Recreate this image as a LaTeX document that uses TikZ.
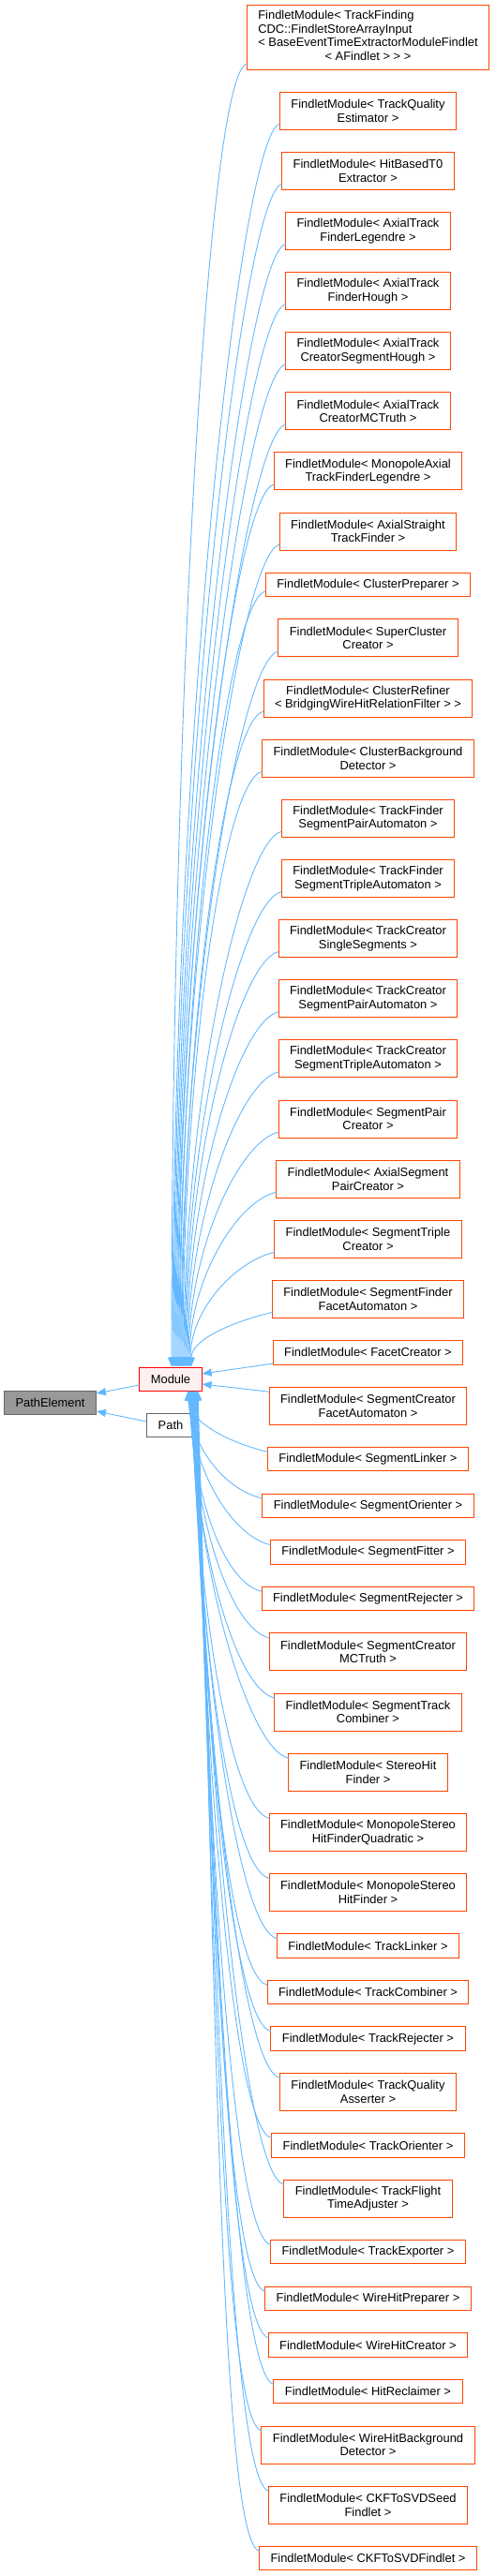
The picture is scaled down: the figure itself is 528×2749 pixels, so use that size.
\documentclass[tikz,border=0pt]{standalone}
\usepackage{fontspec}
\setmainfont{Liberation Sans}
\usetikzlibrary{positioning,calc,arrows.meta}
\definecolor{edgeblue}{HTML}{63B8FF}
\definecolor{findletred}{HTML}{FF4500}
\definecolor{modulefill}{HTML}{FFF0F0}
\definecolor{greyborder}{HTML}{666666}
\definecolor{greyfill}{HTML}{999999}
\tikzset{
  boxfont/.style={font=\fontsize{12.9}{14.5}\selectfont},
  findlet/.style={draw=findletred, line width=1pt, fill=white, align=center, boxfont,
    inner xsep=12pt, inner ysep=2pt, outer sep=0pt, minimum height=40pt},
  oneline/.style={minimum height=25.5pt},
  inh/.style={draw=edgeblue, line width=0.9pt, -{Triangle[length=10pt,width=8pt]}},
}

\begin{document}
\begin{tikzpicture}[x=1pt, y=1pt, node distance=24.14pt]
    \useasboundingbox (0,0) rectangle (528,-2749);

    % base classes
    \node[draw=greyborder, fill=greyfill, line width=1pt, boxfont, inner xsep=12pt,
          minimum height=25.5pt] (pathelem) at (53.5,-1497) {PathElement};
    \node[draw=red, fill=modulefill, line width=1pt, boxfont, inner xsep=12pt,
          minimum height=25pt] (module) at (182,-1471.5) {Module};
    \node[draw=greyborder, fill=white, line width=1pt, boxfont, inner xsep=12pt,
          minimum height=25.5pt] (path) at (182,-1521) {Path};

    % findlet modules, one column
    \node[findlet, minimum height=69pt, anchor=north] (n1) at (392.5,-5)
        {\begin{tabular}{@{}l@{}}FindletModule< TrackFinding\\CDC::FindletStoreArrayInput\\< BaseEventTimeExtractorModuleFindlet\\\multicolumn{1}{@{}c@{}}{< AFindlet > > >}\end{tabular}};
    \node[findlet, below=of n1] (n2) {FindletModule< TrackQuality\\Estimator >};
    \node[findlet, below=of n2] (n3) {FindletModule< HitBasedT0\\Extractor >};
    \node[findlet, below=of n3] (n4) {FindletModule< AxialTrack\\FinderLegendre >};
    \node[findlet, below=of n4] (n5) {FindletModule< AxialTrack\\FinderHough >};
    \node[findlet, below=of n5] (n6) {FindletModule< AxialTrack\\CreatorSegmentHough >};
    \node[findlet, below=of n6] (n7) {FindletModule< AxialTrack\\CreatorMCTruth >};
    \node[findlet, below=of n7] (n8) {FindletModule< MonopoleAxial\\TrackFinderLegendre >};
    \node[findlet, below=of n8] (n9) {FindletModule< AxialStraight\\TrackFinder >};
    \node[findlet, oneline, below=of n9] (n10) {FindletModule< ClusterPreparer >};
    \node[findlet, below=of n10] (n11) {FindletModule< SuperCluster\\Creator >};
    \node[findlet, below=of n11] (n12) {FindletModule< ClusterRefiner\\< BridgingWireHitRelationFilter > >};
    \node[findlet, below=of n12] (n13) {FindletModule< ClusterBackground\\Detector >};
    \node[findlet, below=of n13] (n14) {FindletModule< TrackFinder\\SegmentPairAutomaton >};
    \node[findlet, below=of n14] (n15) {FindletModule< TrackFinder\\SegmentTripleAutomaton >};
    \node[findlet, below=of n15] (n16) {FindletModule< TrackCreator\\SingleSegments >};
    \node[findlet, below=of n16] (n17) {FindletModule< TrackCreator\\SegmentPairAutomaton >};
    \node[findlet, below=of n17] (n18) {FindletModule< TrackCreator\\SegmentTripleAutomaton >};
    \node[findlet, below=of n18] (n19) {FindletModule< SegmentPair\\Creator >};
    \node[findlet, below=of n19] (n20) {FindletModule< AxialSegment\\PairCreator >};
    \node[findlet, below=of n20] (n21) {FindletModule< SegmentTriple\\Creator >};
    \node[findlet, below=of n21] (n22) {FindletModule< SegmentFinder\\FacetAutomaton >};
    \node[findlet, oneline, below=of n22] (n23) {FindletModule< FacetCreator >};
    \node[findlet, below=of n23] (n24) {FindletModule< SegmentCreator\\FacetAutomaton >};
    \node[findlet, oneline, below=of n24] (n25) {FindletModule< SegmentLinker >};
    \node[findlet, oneline, below=of n25] (n26) {FindletModule< SegmentOrienter >};
    \node[findlet, oneline, below=of n26] (n27) {FindletModule< SegmentFitter >};
    \node[findlet, oneline, below=of n27] (n28) {FindletModule< SegmentRejecter >};
    \node[findlet, below=of n28] (n29) {FindletModule< SegmentCreator\\MCTruth >};
    \node[findlet, below=of n29] (n30) {FindletModule< SegmentTrack\\Combiner >};
    \node[findlet, below=of n30] (n31) {FindletModule< StereoHit\\Finder >};
    \node[findlet, below=of n31] (n32) {FindletModule< MonopoleStereo\\HitFinderQuadratic >};
    \node[findlet, below=of n32] (n33) {FindletModule< MonopoleStereo\\HitFinder >};
    \node[findlet, oneline, below=of n33] (n34) {FindletModule< TrackLinker >};
    \node[findlet, oneline, below=of n34] (n35) {FindletModule< TrackCombiner >};
    \node[findlet, oneline, below=of n35] (n36) {FindletModule< TrackRejecter >};
    \node[findlet, below=of n36] (n37) {FindletModule< TrackQuality\\Asserter >};
    \node[findlet, oneline, below=of n37] (n38) {FindletModule< TrackOrienter >};
    \node[findlet, below=of n38] (n39) {FindletModule< TrackFlight\\TimeAdjuster >};
    \node[findlet, oneline, below=of n39] (n40) {FindletModule< TrackExporter >};
    \node[findlet, oneline, below=of n40] (n41) {FindletModule< WireHitPreparer >};
    \node[findlet, oneline, below=of n41] (n42) {FindletModule< WireHitCreator >};
    \node[findlet, oneline, below=of n42] (n43) {FindletModule< HitReclaimer >};
    \node[findlet, below=of n43] (n44) {FindletModule< WireHitBackground\\Detector >};
    \node[findlet, below=of n44] (n45) {FindletModule< CKFToSVDSeed\\Findlet >};
    \node[findlet, oneline, below=of n45] (n46) {FindletModule< CKFToSVDFindlet >};

    % Module and Path derive from PathElement
    \draw[inh] ([yshift=-6.5pt]module.west) -- ([yshift=10pt]pathelem.east);
    \draw[inh] ([yshift=4pt]path.west) -- ([yshift=-9pt]pathelem.east);

    % findlets above Module
    \foreach \i in {1,...,22}
        \draw[inh] let \p1=([yshift=6pt]n\i.south west), \p2=([xshift=\i pt]module.north) in
            (\p1) .. controls +(-42,-10) and +(0,{0.5*(\y1-\y2)}) .. (\p2);

    % findlets beside Module
    \draw[inh] ([yshift=1pt]n23.south west) -- ([yshift=5.5pt]module.east);
    \draw[inh] ([yshift=-5pt]n24.north west) -- ([yshift=-5.5pt]module.east);

    % findlets below Module
    \foreach \i in {25,...,46}
        \draw[inh] let \p1=([yshift=-5pt]n\i.north west), \p2=([xshift=6pt+\i*0.5pt]module.south) in
            (\p1) .. controls +(-42,10) and +({0.015*(\y2-\y1)},{0.5*(\y1-\y2)}) .. (\p2);
\end{tikzpicture}
\end{document}
